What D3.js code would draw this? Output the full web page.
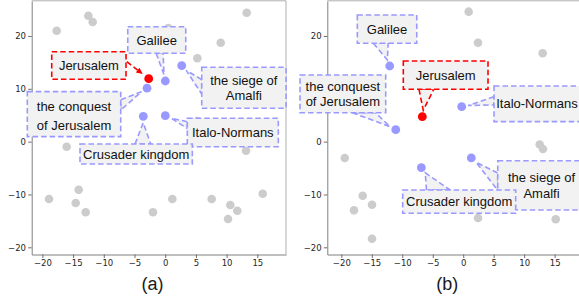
<!DOCTYPE html>
<html><head><meta charset="utf-8">
<script src="https://cdn.jsdelivr.net/npm/d3@7"></script>
<style>body{margin:0;background:#fff} svg{display:block}</style>
</head><body><svg id="c" width="579" height="300"></svg>
<script>
// ---------------- data ----------------
const xTicks = [-20, -15, -10, -5, 0, 5, 10, 15];
const yTicks = [-20, -10, 0, 10, 20];
const panelCaptions = ["(a)", "(b)"];
const termLabels = ["Jerusalem", "Galilee", "the conquest\nof Jerusalem", "Italo-Normans", "the siege of\nAmalfi", "Crusader kingdom"];
const termKind = ["focus", "term", "term", "term", "term", "term"];

// panel (a)
const termXA = [-2.69, 0.02, -2.96, 0.02, 2.69, -3.57];
const termYA = [11.92, 11.48, 10.12, 4.91, 14.38, 4.80];
const grayXA = [-17.67, -12.52, -11.81, 0.5, 13.27, 9.04, 5.23, 5.2, -16.04, 13.16, -18.92, -14.09, -14.58, -12.95, -1.99, 1.16, 7.57, 10.60, 11.74, 10.23, 15.88];
const grayYA = [21.0, 23.84, 22.65, 21.5, 24.41, 18.73, 15.78, 3.9, -0.96, -1.71, -10.86, -9.10, -11.61, -13.37, -13.37, -10.86, -10.86, -11.99, -13.07, -14.64, -9.85];

// panel (b)
const termXB = [-6.71, -12.06, -11.07, -0.25, 1.33, -6.87];
const termYB = [4.72, 14.32, 2.26, 6.62, -3.09, -4.93];
const grayXB = [0.90, 2.43, 13.04, 12.55, 13.09, -19.44, -16.49, -14.96, -17.92, -14.96, 2.43, 15.18];
const grayYB = [24.60, 18.73, 16.72, -0.54, -1.39, -3.09, -10.23, -11.93, -13.0, -18.37, -14.45, -14.70];

// ---------------- layout (label boxes: centre in data units, size in px, connector) ----------------
const boxA = [
  {cx: -12.43, cy: 14.41, w: 74.3, h: 27.6, conn: "arrow", edge: "right", a: 0.34},
  {cx: -1.38, cy: 19.24, w: 58, h: 26.6, conn: "wedge", edge: "bottom", a: 0.49, b: 0.61},
  {cx: -14.85, cy: 5.20, w: 93.4, h: 45, conn: "wedge", edge: "right", a: 0.18, b: 0.41, gap: 19, dy: 1.5},
  {cx: 11.01, cy: 1.73, w: 91, h: 28.4, conn: "wedge", edge: "left", a: 0.12, b: 0.36},
  {cx: 12.81, cy: 10.19, w: 84.3, h: 41, conn: "wedge", edge: "left", a: 0.3, b: 0.65},
  {cx: -4.73, cy: -2.34, w: 112.3, h: 20, conn: "wedge", edge: "top", a: 0.49, b: 0.63}
];
const boxB = [
  {cx: -2.88, cy: 12.59, w: 84.7, h: 28.3, conn: "wedge", edge: "bottom", a: 0.185, b: 0.36},
  {cx: -12.50, cy: 21.29, w: 59.4, h: 28.3, conn: "wedge", edge: "bottom", a: 0.27, b: 0.52},
  {cx: -19.75, cy: 9.05, w: 85.7, h: 37.7, conn: "wedge", edge: "bottom", a: 0.61, b: 0.88},
  {cx: 12.11, cy: 7.16, w: 86, h: 35.7, conn: "wedge", edge: "left", a: 0.3, b: 0.53},
  {cx: 12.85, cy: -8.27, w: 87.6, h: 49.3, conn: "wedge", edge: "left", a: 0.25, b: 0.6},
  {cx: -0.66, cy: -11.36, w: 113, h: 23.3, conn: "wedge", edge: "top", a: 0.21, b: 0.42}
];

const COL = {focus: "#ff0000", term: "#9999ff", gray: "#cccccc", boxFill: "#f2f2f2"};
const FONT = "'Liberation Sans', Arial, Helvetica, sans-serif";
const TICKFONT = "'DejaVu Sans', sans-serif";

const svg = d3.select("#c");

const panels = [
  {xr: [31.7, 286], xd: [-21.74, 19.67], termX: termXA, termY: termYA, grayX: grayXA, grayY: grayYA, boxes: boxA, capX: 152.5},
  {xr: [327.3, 579.8], xd: [-22.30, 19.13], termX: termXB, termY: termYB, grayX: grayXB, grayY: grayYB, boxes: boxB, capX: 447.3}
];
const yRange = [254.5, 1];
const yDomain = [-21.36, 26.62];
const fmt = d => d < 0 ? "\u2212" + Math.abs(d) : String(d);

panels.forEach((p, pi) => {
  const x = d3.scaleLinear().domain(p.xd).range(p.xr);
  const y = d3.scaleLinear().domain(yDomain).range(yRange);
  const g = svg.append("g");

  // box rectangles in px (used for drawing and to know which tick labels they hide)
  const rects = p.boxes.map(b => ({x0: x(b.cx) - b.w / 2, y0: y(b.cy) - b.h / 2, x1: x(b.cx) + b.w / 2, y1: y(b.cy) + b.h / 2}));
  const hidden = (px, py) => rects.some(r => px >= r.x0 && px <= r.x1 && py >= r.y0 && py <= r.y1);

  // frame: top & right light
  g.append("line").attr("x1", p.xr[0]).attr("x2", p.xr[1]).attr("y1", 0.8).attr("y2", 0.8)
    .attr("stroke", "#b0b0b0").attr("stroke-width", 1);
  g.append("line").attr("x1", p.xr[1]).attr("x2", p.xr[1]).attr("y1", 0.8).attr("y2", yRange[0])
    .attr("stroke", "#b0b0b0").attr("stroke-width", 1);

  const xa = g.append("g").attr("transform", `translate(0,${yRange[0]})`)
    .call(d3.axisBottom(x).tickValues(xTicks).tickSize(3.5).tickSizeOuter(0).tickPadding(2).tickFormat(fmt));
  const ya = g.append("g").attr("transform", `translate(${p.xr[0]},0)`)
    .call(d3.axisLeft(y).tickValues(yTicks).tickSize(3.5).tickSizeOuter(0).tickPadding(2.2).tickFormat(fmt));
  [xa, ya].forEach(a => {
    a.select(".domain").attr("stroke", "#808080").attr("stroke-width", 1);
    a.selectAll(".tick line").attr("stroke", "#606060").attr("stroke-width", 0.9);
    a.selectAll(".tick text").attr("font-family", TICKFONT).attr("font-size", 8.5).attr("fill", "#262626");
  });
  // tick labels that sit completely under a label box are not visible
  ya.selectAll(".tick").each(function (t) {
    if (hidden(p.xr[0] - 12, y(t))) d3.select(this).select("text").remove();
  });

  // gray points
  g.append("g").selectAll("circle").data(d3.range(p.grayX.length)).join("circle")
    .attr("cx", i => x(p.grayX[i])).attr("cy", i => y(p.grayY[i])).attr("r", 4.3)
    .attr("fill", COL.gray);

  // term points
  g.append("g").selectAll("circle").data(d3.range(termLabels.length)).join("circle")
    .attr("cx", i => x(p.termX[i])).attr("cy", i => y(p.termY[i])).attr("r", 4.4)
    .attr("fill", i => COL[termKind[i]]);

  // annotations
  termLabels.forEach((lab, i) => {
    const b = p.boxes[i];
    const color = COL[termKind[i]];
    const bx = rects[i].x0, by = rects[i].y0;
    const px = x(p.termX[i]), py = y(p.termY[i]);
    const edgePt = f => {
      if (b.edge === "bottom") return [bx + f * b.w, by + b.h];
      if (b.edge === "top") return [bx + f * b.w, by];
      if (b.edge === "left") return [bx, by + f * b.h];
      return [bx + b.w, by + f * b.h];
    };
    const ag = g.append("g");
    if (b.conn === "wedge") {
      const p1 = edgePt(b.a), p2 = edgePt(b.b);
      const mx = (p1[0] + p2[0]) / 2, my = (p1[1] + p2[1]) / 2;
      const dx = px - mx, dyy = py - my, L = Math.hypot(dx, dyy);
      const sh = 6.5;
      const ax = px - dx / L * sh, ay = py - dyy / L * sh;
      ag.append("path").attr("d", `M${p1[0]},${p1[1]}L${ax},${ay}L${p2[0]},${p2[1]}Z`)
        .attr("fill", COL.boxFill).attr("stroke", color).attr("stroke-width", 1.6)
        .attr("stroke-dasharray", "5.5,3");
    } else {
      const s = edgePt(b.a);
      const dx = px - s[0], dyy = py - s[1], L = Math.hypot(dx, dyy);
      const ux = dx / L, uy = dyy / L;
      const tipD = L - 7.5;
      const tx = s[0] + ux * tipD, ty = s[1] + uy * tipD;
      const hl = 6.5, hw = 3;
      const bxh = tx - ux * hl, byh = ty - uy * hl;
      ag.append("line").attr("x1", s[0] + ux * 1).attr("y1", s[1] + uy * 1).attr("x2", bxh).attr("y2", byh)
        .attr("stroke", color).attr("stroke-width", 1.6).attr("stroke-dasharray", "5.5,3");
      ag.append("path")
        .attr("d", `M${tx},${ty}L${bxh - uy * hw},${byh + ux * hw}L${bxh + uy * hw},${byh - ux * hw}Z`)
        .attr("fill", color);
    }
    ag.append("rect").attr("x", bx).attr("y", by).attr("width", b.w).attr("height", b.h)
      .attr("fill", COL.boxFill).attr("stroke", color).attr("stroke-width", 1.6)
      .attr("stroke-dasharray", "5.5,3");
    const lines = lab.split("\n");
    const gap = b.gap || 15.4;
    const cy0 = y(b.cy) + (b.dy || 0) - (lines.length - 1) * gap / 2;
    lines.forEach((ln, k) => {
      ag.append("text").attr("x", x(b.cx)).attr("y", cy0 + k * gap + 4.6)
        .attr("text-anchor", "middle").attr("font-family", FONT).attr("font-size", 13)
        .attr("fill", "#111").text(ln);
    });
  });

  svg.append("text").attr("x", p.capX).attr("y", 290).attr("text-anchor", "middle")
    .attr("font-family", FONT).attr("font-size", 18).attr("fill", "#1a1a1a").text(panelCaptions[pi]);
});
</script>
</body></html>
